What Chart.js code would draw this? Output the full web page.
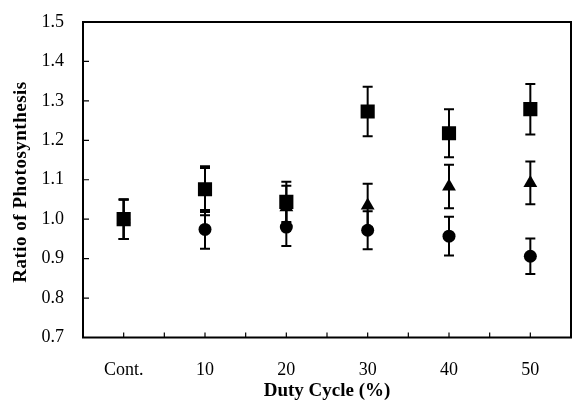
<!DOCTYPE html>
<html>
<head>
<meta charset="utf-8">
<script src="https://cdn.jsdelivr.net/npm/chart.js@4/dist/chart.umd.min.js"></script>
<style>
  html, body { margin: 0; padding: 0; background: #fff; }
  #wrap { width: 573px; height: 410px; }
</style>
</head>
<body>
<div id="wrap"><canvas id="c" width="573" height="410"></canvas></div>
<script>
const categories = ['Cont.', '10', '20', '30', '40', '50'];
const squareVals = [1.00, 1.076, 1.044, 1.273, 1.218, 1.279];
const squareErr = [0.05, 0.058, 0.051, 0.063, 0.061, 0.064];
const triangleVals = [1.00, 1.07, 1.03, 1.035, 1.083, 1.092];
const triangleErr = [0.05, 0.06, 0.055, 0.055, 0.055, 0.054];
const circleVals = [1.00, 0.974, 0.980, 0.972, 0.957, 0.906];
const circleErr = [0.05, 0.049, 0.048, 0.048, 0.049, 0.045];
const yMin = 0.7, yMax = 1.5, yStep = 0.1;
const xTitle = 'Duty Cycle (%)';
const yTitle = 'Ratio of Photosynthesis';

const FONT = '"Liberation Serif", "Times New Roman", serif';
const errors = [squareErr, triangleErr, circleErr];

const framePlugin = {
  id: 'frame',
  beforeDatasetsDraw(chart) {
    const ctx = chart.ctx;
    const xs = chart.scales.x, ys = chart.scales.y;
    ctx.save();
    ctx.strokeStyle = '#000';
    ctx.lineWidth = 2;
    chart.data.datasets.forEach((ds, di) => {
      const err = errors[di];
      ds.data.forEach((v, i) => {
        const x = xs.getPixelForValue(i);
        const yt = ys.getPixelForValue(v + err[i]);
        const yb = ys.getPixelForValue(v - err[i]);
        ctx.beginPath();
        ctx.moveTo(x, yt); ctx.lineTo(x, yb);
        ctx.moveTo(x - 5, yt); ctx.lineTo(x + 5, yt);
        ctx.moveTo(x - 5, yb); ctx.lineTo(x + 5, yb);
        ctx.stroke();
      });
    });
    ctx.restore();
  },
  afterDraw(chart) {
    const ctx = chart.ctx;
    const a = chart.chartArea;
    const xs = chart.scales.x, ys = chart.scales.y;
    ctx.save();
    ctx.strokeStyle = '#000';
    ctx.lineWidth = 2;
    ctx.strokeRect(a.left, a.top, a.right - a.left, a.bottom - a.top);
    ctx.lineWidth = 1.2;
    ctx.beginPath();
    ys.ticks.forEach(t => {
      const y = ys.getPixelForValue(t.value);
      ctx.moveTo(a.left, y); ctx.lineTo(a.left + 6, y);
    });
    for (let i = 0; i < categories.length; i++) {
      const x = xs.getPixelForValue(i);
      ctx.moveTo(x, a.bottom); ctx.lineTo(x, a.bottom - 5);
      if (i > 0) {
        const xb = (xs.getPixelForValue(i - 1) + x) / 2;
        ctx.moveTo(xb, a.bottom); ctx.lineTo(xb, a.bottom - 5);
      }
    }
    ctx.stroke();
    // titles
    ctx.fillStyle = '#000';
    ctx.font = 'bold 19px ' + FONT;
    ctx.textAlign = 'center';
    ctx.textBaseline = 'middle';
    ctx.fillText(xTitle, (a.left + a.right) / 2, 391);
    ctx.translate(21, 182);
    ctx.rotate(-Math.PI / 2);
    try { ctx.letterSpacing = '0.5px'; } catch (e) {}
    ctx.fillText(yTitle, 0, 0);
    ctx.restore();
  }
};

new Chart(document.getElementById('c'), {
  type: 'line',
  data: {
    labels: categories,
    datasets: [
      { data: squareVals, pointStyle: 'rect', pointRadius: 10, showLine: false,
        backgroundColor: '#000', borderColor: '#000', borderWidth: 0 },
      { data: triangleVals, pointStyle: 'triangle', pointRadius: 8, showLine: false,
        backgroundColor: '#000', borderColor: '#000', borderWidth: 0 },
      { data: circleVals, pointStyle: 'circle', pointRadius: 6.5, showLine: false,
        backgroundColor: '#000', borderColor: '#000', borderWidth: 0 }
    ]
  },
  options: {
    responsive: false,
    animation: false,
    events: [],
    layout: { autoPadding: false, padding: { top: 22, right: 2, left: 0, bottom: 0 } },
    plugins: { legend: { display: false }, tooltip: { enabled: false } },
    scales: {
      x: {
        type: 'category',
        offset: true,
        grid: { display: false, drawTicks: false },
        border: { display: false },
        ticks: { color: '#000', font: { family: FONT, size: 18 }, padding: 22, maxRotation: 0 },
        afterFit(s) { s.height = 72.5; s.paddingLeft = 0; s.paddingRight = 0; }
      },
      y: {
        min: yMin, max: yMax,
        grid: { display: false, drawTicks: false },
        border: { display: false },
        ticks: { stepSize: yStep, color: '#000', font: { family: FONT, size: 18 }, padding: 19,
          callback: v => Number(v).toFixed(1) },
        afterFit(s) { s.width = 83; s.paddingTop = 0; s.paddingBottom = 0; }
      }
    }
  },
  plugins: [framePlugin]
});
</script>
</body>
</html>
